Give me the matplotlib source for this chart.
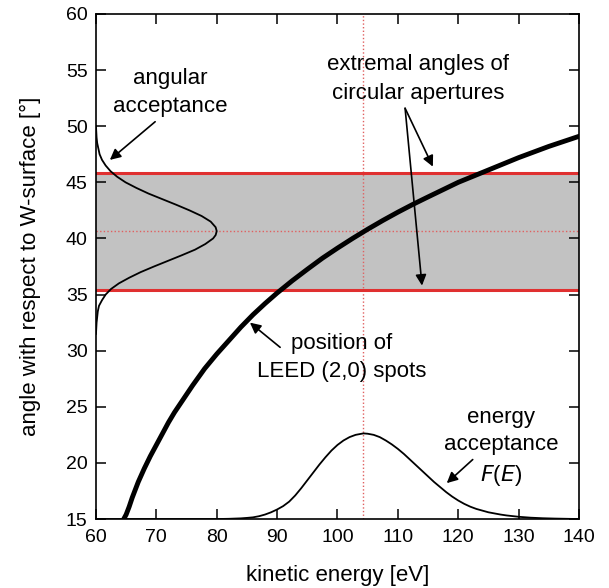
import matplotlib
matplotlib.use("Agg")
import matplotlib.pyplot as plt

plt.rcParams['font.family'] = ['Liberation Sans', 'DejaVu Sans']

# LEED (2,0) spot position: kinetic energy [eV] vs angle to surface [deg]
spot_energy = [64.5, 65, 65.5, 66, 67, 68, 69, 70, 71, 72, 73, 74, 76, 78, 80,
               82, 84, 86, 88, 90, 92.5, 95, 97.5, 100, 102.5, 105, 107.5, 110,
               112.5, 115, 117.5, 120, 122.5, 125, 127.5, 130, 132.5, 135,
               137.5, 140]
spot_angle = [14.9, 15.4, 16.1, 16.9, 18.3, 19.5, 20.6, 21.6, 22.6, 23.6, 24.5,
              25.3, 26.9, 28.4, 29.7, 30.9, 32.1, 33.2, 34.2, 35.14, 36.23,
              37.25, 38.24, 39.14, 40.0, 40.82, 41.6, 42.34, 43.04, 43.7, 44.35,
              45.0, 45.55, 46.1, 46.65, 47.2, 47.7, 48.2, 48.65, 49.1]

# energy acceptance F(E), drawn on top of the 15 deg baseline
fe_energy = [60, 80, 82, 84, 85, 86, 87, 88, 89, 90, 91, 92, 93, 94, 95, 96, 97,
             98, 99, 100, 101, 102, 103, 104.3, 105, 106, 107, 108, 109, 110,
             111, 112, 113, 114, 115, 116, 117, 118, 119, 120, 121, 122, 123,
             124, 125, 126, 127, 128, 130, 132, 134, 136, 138, 140]
fe_level = [15.0, 15.0, 15.02, 15.06, 15.1, 15.15, 15.25, 15.4, 15.6, 15.85,
            16.15, 16.55, 17.1, 17.75, 18.45, 19.15, 19.85, 20.5, 21.1, 21.6,
            22.0, 22.3, 22.5, 22.63, 22.6, 22.5, 22.3, 22.0, 21.65, 21.25, 20.8,
            20.3, 19.8, 19.3, 18.8, 18.3, 17.85, 17.4, 17.0, 16.65, 16.35, 16.1,
            15.9, 15.75, 15.6, 15.5, 15.4, 15.32, 15.2, 15.12, 15.07, 15.04,
            15.02, 15.0]

# angular acceptance, drawn sideways from the 60 eV axis
aa_angle = [31.5, 32.0, 32.5, 33.0, 33.5, 34.0, 34.5, 35.0, 35.5, 36.0, 36.5,
            37.0, 37.5, 38.0, 38.5, 39.0, 39.5, 40.0, 40.3, 40.65, 41.0, 41.5,
            42.0, 42.5, 43.0, 43.5, 44.0, 44.5, 45.0, 45.5, 46.0, 46.5, 47.0,
            47.5, 48.0, 48.5, 49.0, 49.5, 50.0]
aa_level = [60.0, 60.05, 60.1, 60.2, 60.3, 60.5, 61.0, 61.6, 62.5, 63.8, 65.5,
            67.4, 69.6, 71.9, 74.2, 76.4, 78.1, 79.4, 79.82, 80.0, 79.82, 79.0,
            77.5, 75.5, 73.3, 71.0, 68.7, 66.7, 64.9, 63.5, 62.4, 61.6, 61.0,
            60.6, 60.4, 60.2, 60.1, 60.05, 60.0]

aperture_low = 35.4
aperture_high = 45.8
centre_energy = 104.3
centre_angle = 40.65

fig = plt.figure(figsize=(6.09, 5.88), dpi=100)
ax = fig.add_axes([0.1576, 0.1173, 0.7931, 0.8589])

ax.axhspan(aperture_low, aperture_high, color='#c2c2c2', lw=0, zorder=0)
ax.axhline(aperture_low, color='#e03030', lw=2.2, zorder=2)
ax.axhline(aperture_high, color='#e03030', lw=2.2, zorder=2)
ax.axhline(centre_angle, color='#e06060', lw=1.0, ls=(0, (1, 1.6)), zorder=1)
ax.axvline(centre_energy, color='#e06060', lw=1.0, ls=(0, (1, 1.6)), zorder=1)

ax.plot(spot_energy, spot_angle, color='black', lw=3.5, zorder=4,
        solid_joinstyle='round')
ax.plot(fe_energy, fe_level, color='black', lw=1.3, zorder=3,
        solid_joinstyle='round')
ax.plot(aa_level, aa_angle, color='black', lw=1.3, zorder=3,
        solid_joinstyle='round')

ax.set_xlim(60, 140)
ax.set_ylim(15, 60)
ax.set_xticks(range(60, 141, 10))
ax.set_yticks(range(15, 61, 5))
ax.tick_params(direction='in', length=7, width=1.1, top=True, right=True,
               labelsize=14)
ax.tick_params(axis='x', pad=7)
ax.tick_params(axis='y', pad=6)
for s in ax.spines.values():
    s.set_linewidth(1.2)

ax.set_xlabel('kinetic energy [eV]', fontsize=16, labelpad=14)
ax.set_ylabel('angle with respect to W-surface [°]', fontsize=16, labelpad=18)

arrow = dict(arrowstyle='-|>', color='black', lw=1.2, mutation_scale=16,
             shrinkA=0, shrinkB=0)
txt = dict(fontsize=16, ha='center', va='center', linespacing=1.4)

ax.text(72.3, 53.0, 'angular\nacceptance', **txt)
ax.annotate('', xy=(62.3, 47.0), xytext=(69.8, 50.4), arrowprops=arrow)

ax.text(113.3, 54.2, 'extremal angles of\ncircular apertures', fontsize=16,
        ha='center', va='center', linespacing=1.55)
ax.annotate('', xy=(115.8, 46.4), xytext=(111.2, 51.6), arrowprops=arrow)
ax.annotate('', xy=(114.0, 35.8), xytext=(111.2, 51.6), arrowprops=arrow)

ax.text(100.7, 29.4, 'position of\nLEED (2,0) spots', **txt)
ax.annotate('', xy=(85.5, 32.5), xytext=(90.5, 30.3), arrowprops=arrow)

ax.text(127.1, 21.4, 'energy\nacceptance\n$F$($E$)', **txt)
ax.annotate('', xy=(118.1, 18.2), xytext=(122.4, 20.3), arrowprops=arrow)

plt.savefig('out.png', dpi=100)
